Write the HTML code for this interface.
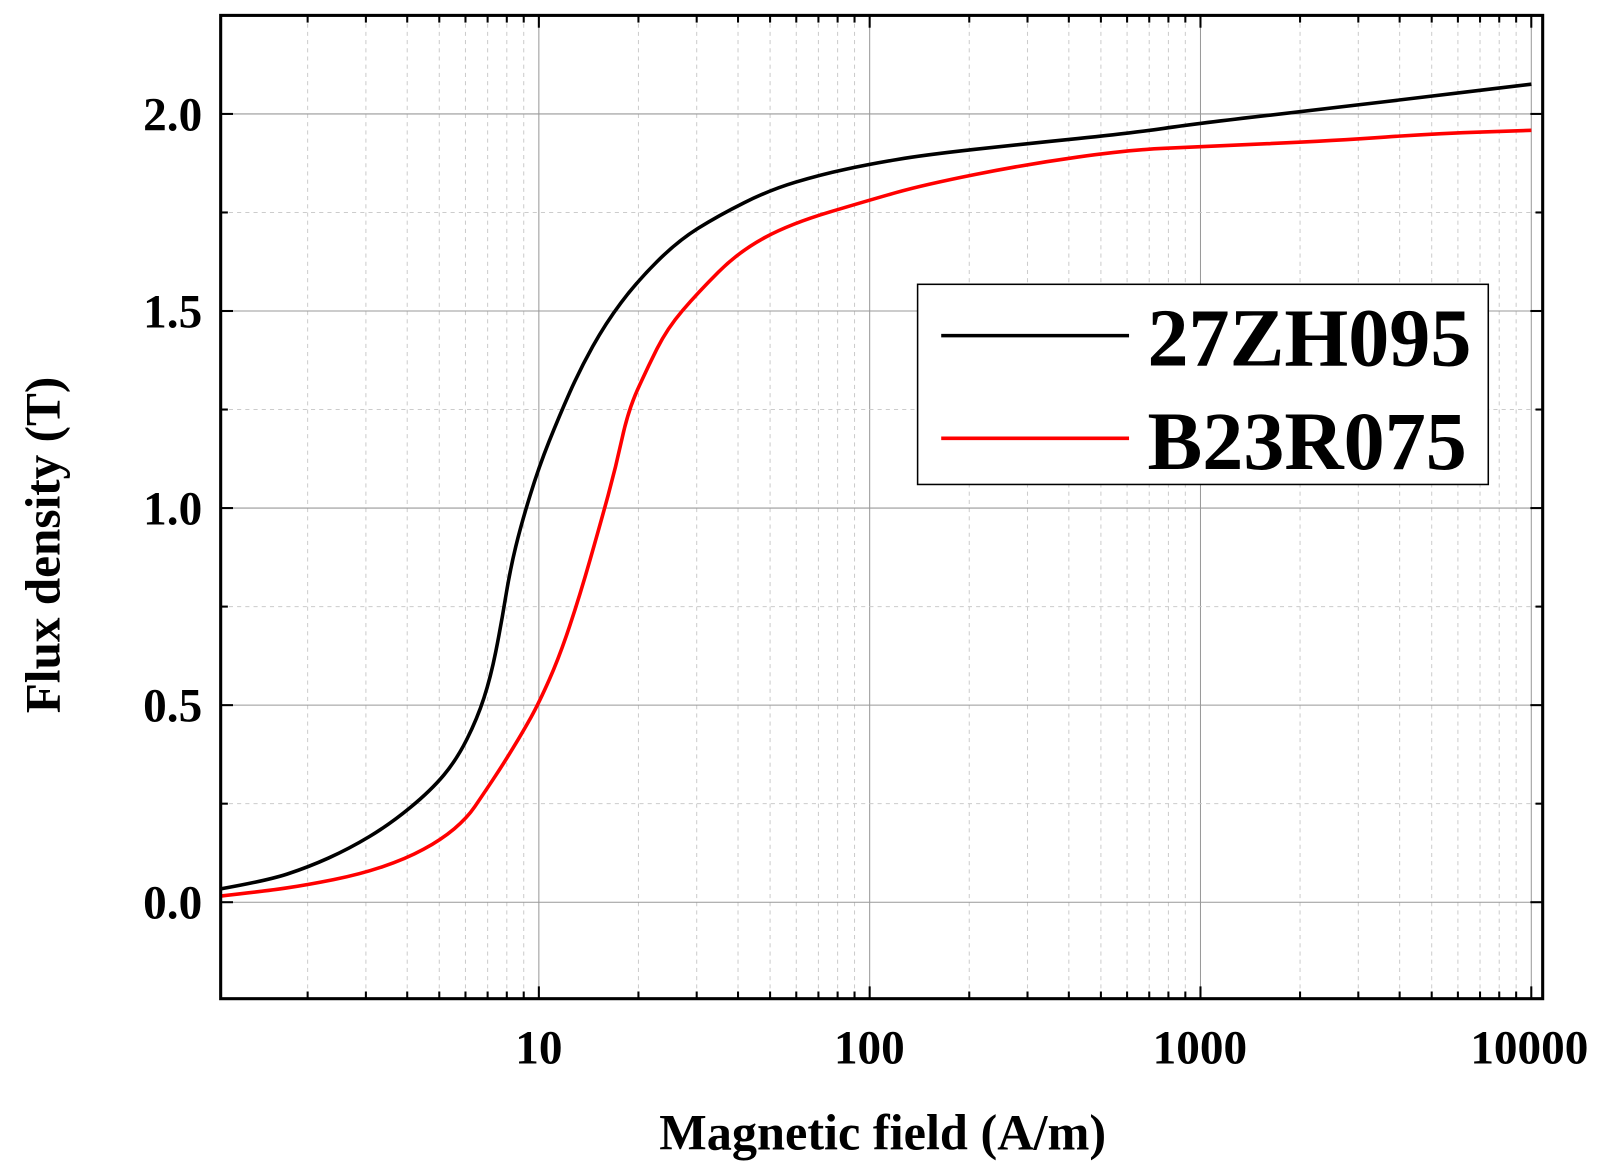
<!DOCTYPE html>
<html><head><meta charset="utf-8"><style>
html,body{margin:0;padding:0;background:#fff;}
svg{display:block;font-family:"Liberation Serif",serif;font-weight:bold;}
</style></head><body>
<svg width="1607" height="1173" viewBox="0 0 1607 1173" xmlns="http://www.w3.org/2000/svg">
<g transform="scale(1.0264)">
<g id="grid"></g>
<path id="blk" fill="none" stroke="#000" stroke-width="3.5"/>
<path id="red" fill="none" stroke="#f00" stroke-width="3.5"/>
<rect x="215" y="15" width="1288" height="958" fill="none" stroke="#000" stroke-width="3"/>
<g id="ticks" stroke="#000" stroke-width="2"></g>
<g font-size="46" text-anchor="end">
<text x="197" y="895">0.0</text>
<text x="197" y="703">0.5</text>
<text x="197" y="511">1.0</text>
<text x="197" y="319">1.5</text>
<text x="197" y="127">2.0</text>
</g>
<g font-size="46" text-anchor="middle">
<text x="525" y="1036">10</text>
<text x="847" y="1036">100</text>
<text x="1169" y="1036">1000</text>
<text x="1490" y="1036">10000</text>
</g>
<text x="860" y="1120" font-size="49" text-anchor="middle">Magnetic field (A/m)</text>
<text transform="translate(58,531) rotate(-90)" font-size="48" text-anchor="middle">Flux density (T)</text>
<rect x="894" y="277" width="556" height="195" fill="#fff" stroke="#000" stroke-width="1.5"/>
<line x1="917" y1="327" x2="1100" y2="327" stroke="#000" stroke-width="3.5"/>
<line x1="917" y1="427" x2="1100" y2="427" stroke="#f00" stroke-width="3.5"/>
<text x="1118" y="356" font-size="80">27ZH095</text>
<text x="1118" y="457" font-size="80">B23R075</text>
</g>
</svg>
<script>
var NS="http://www.w3.org/2000/svg";
function el(p,t,a){var e=document.createElementNS(NS,t);for(var k in a)e.setAttribute(k,a[k]);document.getElementById(p).appendChild(e);}
function X(v){return 525+(Math.log10(v)-1)*322.3;}
function Y(b){return 879-b*384;}
for(var d=1;d<=10000;d*=10){for(var m=1;m<10;m++){var v=d*m;var x=X(v);if(x<216||x>1502)continue;
 if(m==1){el("grid","line",{x1:x,y1:15,x2:x,y2:973,stroke:"#999","stroke-width":1});el("ticks","line",{x1:x,y1:973,x2:x,y2:961});el("ticks","line",{x1:x,y1:15,x2:x,y2:27});}
 else{el("grid","line",{x1:x,y1:15,x2:x,y2:973,stroke:"#ccc","stroke-width":1,"stroke-dasharray":"4,4"});el("ticks","line",{x1:x,y1:973,x2:x,y2:966});el("ticks","line",{x1:x,y1:15,x2:x,y2:22});}}}
for(var i=-0.25;i<=2.25;i+=0.25){var y=Y(i);if(y<16||y>972)continue;var maj=Math.abs(i*2-Math.round(i*2))<1e-6;
 el("grid","line",maj?{x1:215,y1:y,x2:1503,y2:y,stroke:"#999","stroke-width":1}:{x1:215,y1:y,x2:1503,y2:y,stroke:"#ccc","stroke-width":1,"stroke-dasharray":"4,4"});
 el("ticks","line",{x1:215,y1:y,x2:maj?227:222,y2:y});el("ticks","line",{x1:1503,y1:y,x2:maj?1491:1496,y2:y});}
function path(id,p){var d="M"+p[0][0]+","+p[0][1];for(var i=1;i<p.length-1;i++){var xc=(p[i][0]+p[i+1][0])/2,yc=(p[i][1]+p[i+1][1])/2;d+=" Q"+p[i][0]+","+p[i][1]+" "+xc+","+yc;}d+=" L"+p[p.length-1][0]+","+p[p.length-1][1];document.getElementById(id).setAttribute("d",d);}
path("blk",[[215,866],[260,858],[300,845],[340,827],[380,803],[420,770],[445,740],[465,700],[478,660],[488,610],[497,555],[508,510],[525,455],[545,405],[565,360],[590,315],[620,275],[660,235],[700,210],[750,185],[800,170],[847,160],[900,151],[1000,140],[1100,130],[1169,120],[1300,105],[1400,93],[1492,82]]);
path("red",[[215,873],[260,868],[300,862],[350,852],[395,837],[430,818],[455,797],[470,775],[490,745],[510,712],[525,685],[545,640],[565,580],[585,510],[600,455],[612,400],[630,360],[650,320],[680,285],[720,245],[770,218],[847,195],[900,180],[1000,160],[1100,146],[1169,143],[1300,137],[1400,130],[1492,127]]);
</script>
</body></html>
